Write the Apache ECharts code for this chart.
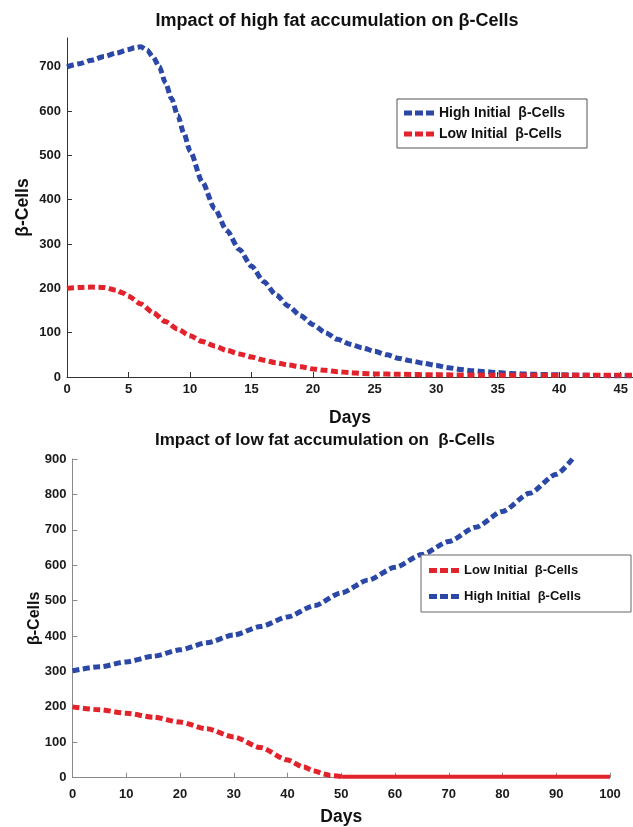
<!DOCTYPE html>
<html>
<head>
<meta charset="utf-8">
<script src="https://cdn.jsdelivr.net/npm/echarts@6/dist/echarts.min.js"></script>
<style>
  html, body { margin: 0; padding: 0; background: #ffffff; }
  #chart { width: 633px; height: 827px; }
</style>
</head>
<body>
<div id="chart"></div>
<script>
// Panel titles and series names
const topTitle = 'Impact of high fat accumulation on β-Cells';
const bottomTitle = 'Impact of low fat accumulation on  β-Cells';
const highName = 'High Initial  β-Cells';
const lowName = 'Low Initial  β-Cells';

// High fat accumulation: β-cell count vs days
const topHighDays = [0,1,2,3,4,5,5.5,6,6.5,7,7.5,8,8.5,9,9.5,10,11,12,13,14,15,16,17,18,19,20,21,22,23,24,25,26,27,28,29,30,31,32,33,34,35,36,37,38,40,42,44,46];
const topHighCells = [700,707,715,723,731,739,743,745,738,722,700,664,628,590,550,510,440,380,330,288,250,215,185,160,138,118,100,85,74,66,58,50,42,36,31,26,21,17,14,12,10,8,7,6,5,4,3,3];
const topLowDays = [0,1,2,3,4,4.5,5,6,7,8,9,10,11,12,13,14,15,16,17,18,19,20,21,22,23,24,25,27,30,35,40,46];
const topLowCells = [200,202,203,202,196,190,182,165,145,125,108,93,80,70,60,52,45,38,32,27,23,18,15,12,10,8,7,6,5,4,4,4];

// Low fat accumulation: β-cell count vs days
const botHighDays = [0,5,10,15,20,25,30,35,40,45,50,55,60,65,70,75,80,85,90,93];
const botHighCells = [302,313,327,343,361,381,403,427,454,486,522,558,594,630,667,707,752,803,857,900];
const botLowDays = [0,5,10,15,20,25,30,35,40,43,45,47,48,50];
const botLowCells = [200,192,182,171,157,138,115,85,50,30,19,10,6,3];
const botLowTailDays = [50,60,70,80,90,100];
const botLowTailCells = [3,3,3,3,3,3];

// Tick labels
const topXTicks = [0,5,10,15,20,25,30,35,40,45];
const topYTicks = [0,100,200,300,400,500,600,700];
const botXTicks = [0,10,20,30,40,50,60,70,80,90,100];
const botYTicks = [0,100,200,300,400,500,600,700,800,900];

const pairs = (xs, ys) => xs.map((x, i) => [x, ys[i]]);

const BLUE = '#2b48a6';
const RED = '#e2232b';
const FONT = '"Liberation Sans", Arial, sans-serif';
// three-dash legend key
const DASH_ICON = 'path://M0 0h8v5h-8z M11 0h8v5h-8z M22 0h8v5h-8z';

function valueAxis(opts) {
  return Object.assign({
    type: 'value',
    splitLine: { show: false },
    axisLine: { show: true, onZero: false, lineStyle: { color: opts.lineColor, width: 1 } },
    axisTick: { show: true, inside: true, length: 5, customValues: opts.ticks, lineStyle: { color: opts.lineColor } },
    axisLabel: {
      customValues: opts.ticks,
      color: '#1a1a1a', fontFamily: FONT, fontSize: 13, fontWeight: 'bold', margin: opts.margin || 6
    },
    nameTextStyle: Object.assign({ color: '#111', fontFamily: FONT, fontSize: 17.5, fontWeight: 'bold' }, opts.nameStyle || {}),
    nameLocation: 'middle'
  }, opts.extra);
}

function dashed(name, data, color, xi) {
  return {
    name, type: 'line', xAxisIndex: xi, yAxisIndex: xi,
    data, showSymbol: false, symbol: 'none', smooth: 0.25, smoothMonotone: 'x',
    lineStyle: { color, width: 5, type: [7, 3.5], cap: 'butt' },
    itemStyle: { color }
  };
}

const chart = echarts.init(document.getElementById('chart'), null, { renderer: 'canvas' });

chart.setOption({
  animation: false,
  backgroundColor: '#ffffff',
  title: [
    { text: topTitle, left: 332, top: 7, textAlign: 'center',
      textStyle: { fontFamily: FONT, fontSize: 18, fontWeight: 'bold', color: '#111' } },
    { text: bottomTitle, left: 320, top: 427, textAlign: 'center',
      textStyle: { fontFamily: FONT, fontSize: 17, fontWeight: 'bold', color: '#111' } }
  ],
  legend: [
    { data: [highName, lowName], left: 397, top: 99, orient: 'vertical',
      icon: DASH_ICON, itemWidth: 30, itemHeight: 5, itemGap: 7,
      padding: [7, 22, 7, 7],
      borderColor: '#555', borderWidth: 1, backgroundColor: '#fff',
      textStyle: { fontFamily: FONT, fontSize: 14, fontWeight: 'bold', color: '#111' } },
    { data: [lowName, highName], left: 421, top: 555, orient: 'vertical',
      icon: DASH_ICON, itemWidth: 30, itemHeight: 5, itemGap: 13,
      padding: [9, 50, 9, 8],
      borderColor: '#666', borderWidth: 1, backgroundColor: '#fff',
      textStyle: { fontFamily: FONT, fontSize: 13, fontWeight: 'bold', color: '#111' } }
  ],
  grid: [
    { left: 67, top: 38, right: 0, height: 339 },
    { left: 72.5, top: 459, right: 23, height: 318.7 }
  ],
  xAxis: [
    valueAxis({ lineColor: '#333', ticks: topXTicks,
      extra: { gridIndex: 0, min: 0, max: 46, interval: 5, name: 'Days', nameGap: 32 } }),
    valueAxis({ lineColor: '#8a8a8a', ticks: botXTicks, margin: 10,
      extra: { gridIndex: 1, min: 0, max: 100, interval: 10, name: 'Days', nameGap: 30 } })
  ],
  yAxis: [
    valueAxis({ lineColor: '#333', ticks: topYTicks,
      extra: { gridIndex: 0, min: 0, max: 765, interval: 100, name: 'β-Cells', nameGap: 35, nameMoveOverlap: false } }),
    valueAxis({ lineColor: '#8a8a8a', ticks: botYTicks,
      nameStyle: { fontSize: 16 },
      extra: { gridIndex: 1, min: 0, max: 900, interval: 100, name: 'β-Cells', nameGap: 30, nameMoveOverlap: false } })
  ],
  series: [
    dashed(highName, pairs(topHighDays, topHighCells), BLUE, 0),
    dashed(lowName, pairs(topLowDays, topLowCells), RED, 0),
    dashed(lowName, pairs(botLowDays, botLowCells), RED, 1),
    dashed(highName, pairs(botHighDays, botHighCells), BLUE, 1),
    {
      name: lowName, type: 'line', xAxisIndex: 1, yAxisIndex: 1,
      data: pairs(botLowTailDays, botLowTailCells), showSymbol: false, symbol: 'none',
      lineStyle: { color: RED, width: 4, type: 'solid' }, itemStyle: { color: RED }
    }
  ]
});
</script>
</body>
</html>
